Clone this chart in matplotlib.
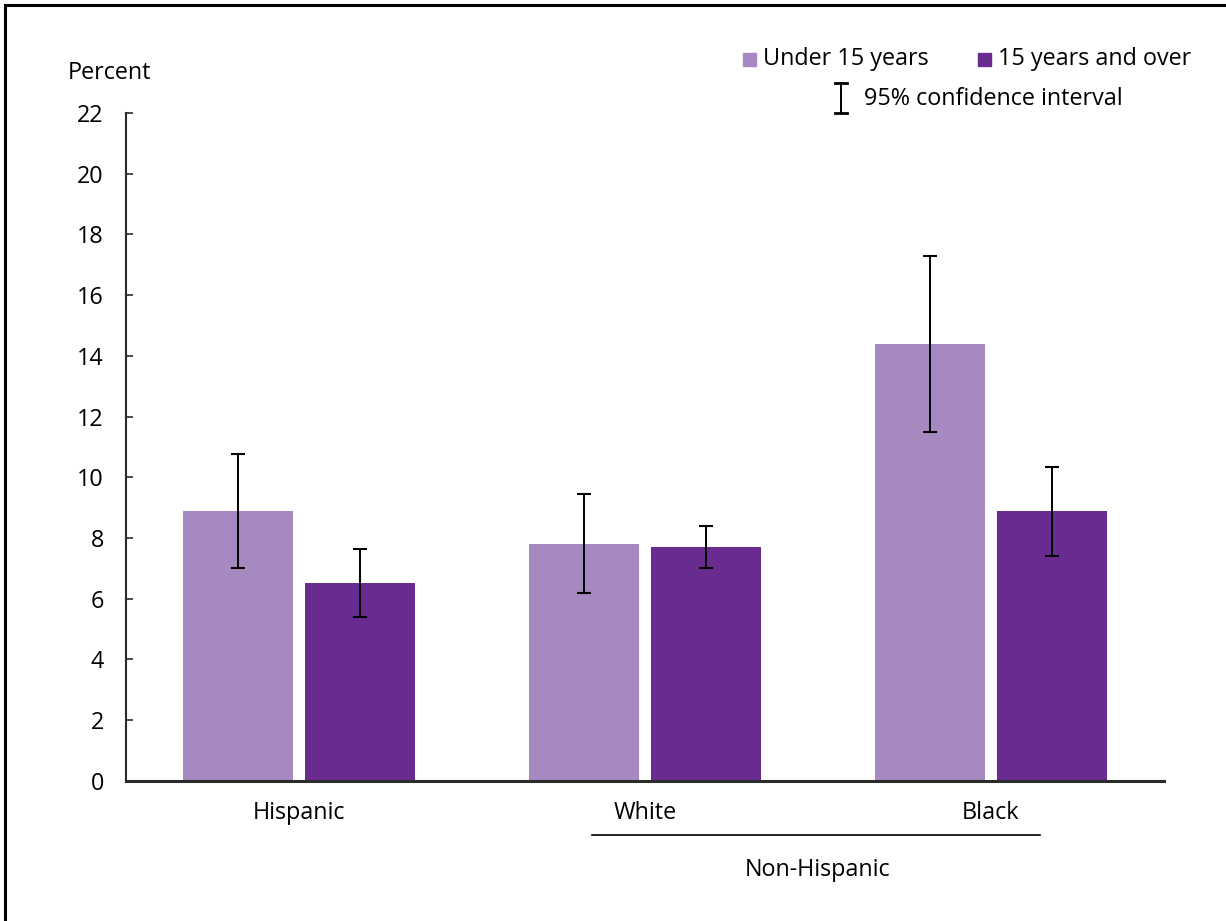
import matplotlib
matplotlib.use("Agg")
import matplotlib.pyplot as plt
from matplotlib.lines import Line2D
from matplotlib.patches import Rectangle
import numpy as np

plt.rcParams['font.family'] = ['Open Sans', 'DejaVu Sans']

groups = ['Hispanic', 'White', 'Black']
under15 = [8.9, 7.8, 14.4]
under15_lo = [7.0, 6.2, 11.5]
under15_hi = [10.75, 9.45, 17.3]
over15 = [6.5, 7.7, 8.9]
over15_lo = [5.4, 7.0, 7.4]
over15_hi = [7.65, 8.4, 10.35]
yticks = list(range(0, 23, 2))

light = '#a589c0'
dark = '#6a2b91'
fs = 16.8

fig = plt.figure(figsize=(12.26, 9.21), dpi=100)
ax = fig.add_axes([0.1028, 0.1523, 0.8466, 0.725])

x = np.arange(len(groups))
off = 0.176
w = 0.32

u = np.array(under15)
o = np.array(over15)
uerr = [u - np.array(under15_lo), np.array(under15_hi) - u]
oerr = [o - np.array(over15_lo), np.array(over15_hi) - o]

ax.bar(x - off, u, w, color=light, zorder=2)
ax.bar(x + off, o, w, color=dark, zorder=2)
ax.errorbar(x - off, u, yerr=uerr, fmt='none', ecolor='black', elinewidth=1.4,
            capsize=4.8, capthick=1.5, zorder=3)
ax.errorbar(x + off, o, yerr=oerr, fmt='none', ecolor='black', elinewidth=1.4,
            capsize=4.8, capthick=1.5, zorder=3)

ax.set_xlim(-0.5, 2.5)
ax.set_ylim(0, 22)
ax.set_yticks(yticks)
ax.tick_params(axis='y', direction='in', length=5, width=1.2, pad=16,
               labelsize=fs, colors='#2b2b2b', labelcolor='black')
ax.set_xticks([])
for s in ['top', 'right']:
    ax.spines[s].set_visible(False)
ax.spines['left'].set_color('#2b2b2b')
ax.spines['left'].set_linewidth(1.5)
ax.spines['bottom'].set_color('#2b2b2b')
ax.spines['bottom'].set_linewidth(2.2)

# group labels
tr = ax.get_xaxis_transform()
for xi, g in zip(x, groups):
    ax.text(xi, -0.048, g, transform=tr, ha='center', va='center', fontsize=fs)
ax.add_line(Line2D([0.847, 2.142], [-0.081, -0.081], transform=tr, color='black',
                   lw=1.2, clip_on=False))
ax.text(1.5, -0.134, 'Non-Hispanic', transform=tr, ha='center', va='center', fontsize=fs)

fig.text(68 / 1226, 1 - 73 / 921, 'Percent', ha='left', va='center', fontsize=fs)

# legend
W, H = 1226, 921
fig.patches.append(Rectangle((743 / W, 1 - 66 / H), 13 / W, 13 / H, transform=fig.transFigure,
                             color=light))
fig.text(763 / W, 1 - 59 / H, 'Under 15 years', ha='left', va='center', fontsize=fs)
fig.patches.append(Rectangle((978 / W, 1 - 66 / H), 13 / W, 13 / H, transform=fig.transFigure,
                             color=dark))
fig.text(998 / W, 1 - 59 / H, '15 years and over', ha='left', va='center', fontsize=fs)
cx = 841 / W
fig.lines.append(Line2D([cx, cx], [1 - 83 / H, 1 - 113 / H], transform=fig.transFigure,
                        color='black', lw=1.4))
for yy in [83, 113]:
    fig.lines.append(Line2D([cx - 6 / W, cx + 6 / W], [1 - yy / H, 1 - yy / H],
                            transform=fig.transFigure, color='black', lw=2))
fig.text(864 / W, 1 - 99 / H, '95% confidence interval', ha='left', va='center', fontsize=fs)

# frame
fig.lines.append(Line2D([5 / W, 1], [1 - 5 / H, 1 - 5 / H], transform=fig.transFigure,
                        color='black', lw=2.2))
fig.lines.append(Line2D([5 / W, 5 / W], [0, 1 - 5 / H], transform=fig.transFigure,
                        color='black', lw=2.2))

fig.savefig('out.png', dpi=100)
